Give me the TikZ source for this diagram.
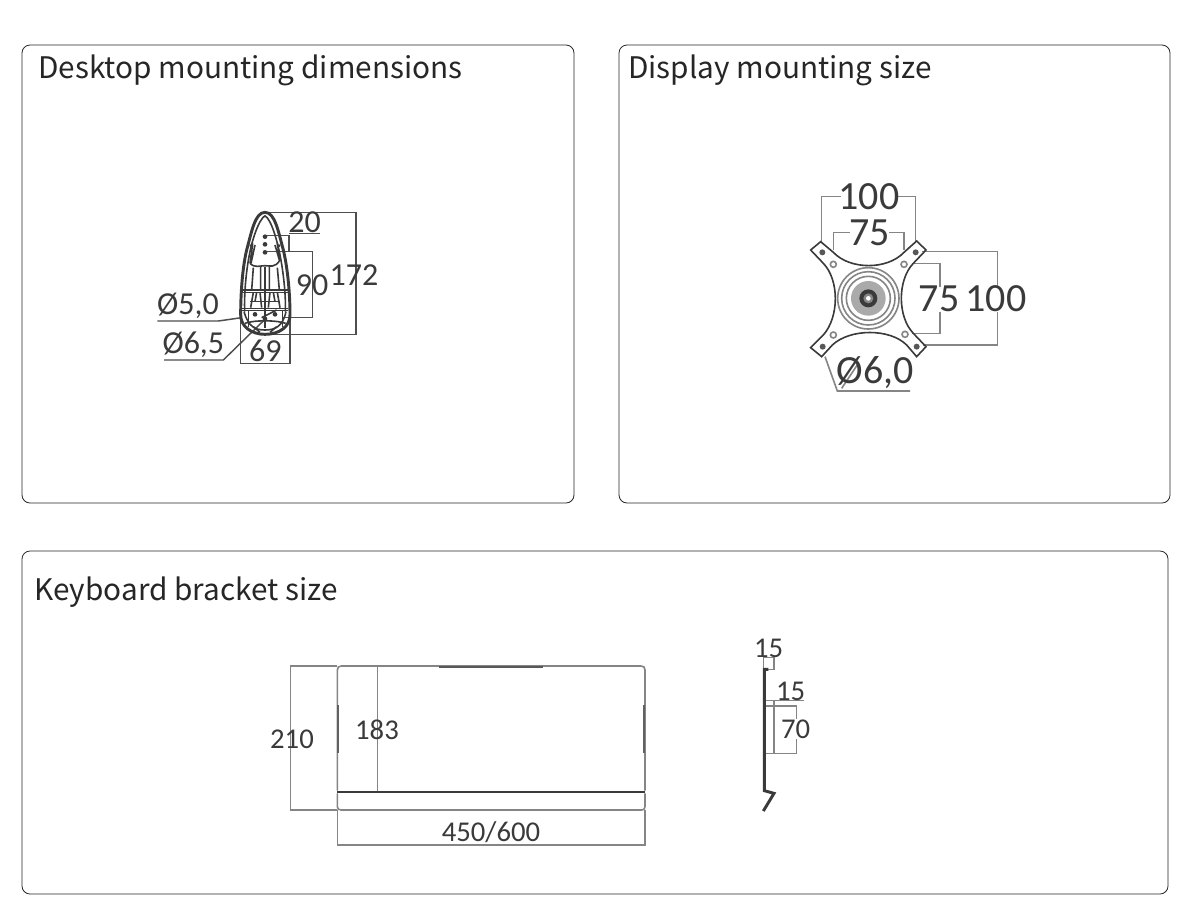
\documentclass[tikz,border=0pt]{standalone}
\usepackage{fontspec}
\newfontfamily\titlefont{Noto Sans CJK SC}
\newfontfamily\dimfont{Carlito}
\definecolor{dimgray}{HTML}{858585}
\definecolor{ink}{HTML}{3A3A3A}
\definecolor{lbl}{HTML}{3A3A3A}
\tikzset{
 panel/.style={draw=black!85,line width=0.6pt,rounded corners=6pt},
 ttl/.style={anchor=west,inner sep=0,text=black!85,font=\titlefont\fontsize{22.3}{26}\selectfont},
 dimtxt/.style={inner sep=0,text=lbl,font=\dimfont\fontsize{#1}{#1}\selectfont},
 dimtxt/.default=24,
 dimline/.style={draw=dimgray,line width=1.2pt},
 darkdim/.style={draw=ink!90,line width=1.1pt},
 part/.style={draw=ink,line width=1.2pt},
 heavy/.style={draw=ink,line width=2.2pt},
 zoomed/.style={x=0.25pt,y=-0.25pt}
}
\begin{document}
\begin{tikzpicture}[x=0.75pt,y=-0.75pt]
\useasboundingbox (0,0) rectangle (1200,922);
\fill[white] (0,0) rectangle (1200,922);
\draw[panel] (22,45) rectangle (574,503);
\draw[panel] (619,45) rectangle (1170,503);
\draw[panel] (22,551) rectangle (1168,894);
\node[ttl] (t1) at (38,70) {Desktop mounting dimensions};
\node[ttl] (t2) at (628,70) {Display mounting size};
\node[ttl] (t3) at (34,592) {Keyboard bracket size};

% Desktop mount
\begin{scope}[shift={(140,195)},zoomed]
 % dimension lines
 \draw[darkdim] (375,52)--(648,52)--(648,418)--(400,418);
 \draw[darkdim] (447,115)--(540,115);
 \draw[darkdim] (375,122)--(447,122)--(447,170);
 \draw[darkdim] (375,170)--(518,170)--(518,368)--(430,368);
 \draw[darkdim] (302,370)--(302,505)--(450,505)--(450,370);
 \draw[darkdim] (52,378)--(235,378)--(305,368);
 \draw[darkdim] (72,495)--(250,495)--(380,368);
 % body
 \draw[heavy] (375,52) .. controls (345,52) and (335,110) .. (320,165)
   .. controls (308,215) and (302,290) .. (302,360)
   .. controls (302,395) and (335,418) .. (375,418)
   .. controls (418,418) and (450,395) .. (450,360)
   .. controls (450,290) and (442,215) .. (430,165)
   .. controls (415,110) and (405,52) .. (375,52) -- cycle;
 \draw[part] (375,62) .. controls (355,75) and (335,140) .. (328,180)
   .. controls (318,230) and (312,300) .. (314,350);
 \draw[part] (375,62) .. controls (395,75) and (412,140) .. (420,180)
   .. controls (430,230) and (438,300) .. (436,350);
 \draw[part] (338,145)--(330,205) (345,150)--(333,205);
 \draw[part] (412,145)--(420,195) (405,150)--(418,195);
 \draw[part] (330,205) .. controls (345,220) and (360,212) .. (375,212)
   .. controls (390,212) and (405,220) .. (420,195);
 \draw[part] (340,218)--(335,285) (362,215)--(362,285);
 \draw[part] (388,215)--(388,285) (412,218)--(418,285);
 \draw[part] (305,285)--(445,285) (305,292)--(445,292);
 \draw[part] (375,215)--(375,400);
 \draw[part] (340,292)--(332,338) (360,292)--(365,338);
 \draw[part] (390,292)--(385,338) (412,292)--(420,338);
 \draw[part] (350,292)--(345,320) (400,292)--(405,320);
 \draw[part] (330,320)--(420,320);
 \draw[part] (305,340)--(445,340) (305,347)--(445,347);
 \draw[part] (312,350) .. controls (325,395) and (345,405) .. (375,405)
   .. controls (405,405) and (428,395) .. (438,350);
 \draw[part] (325,345)--(325,395) (428,345)--(428,395);
 \draw[part] (315,385) .. controls (340,375) and (410,375) .. (437,385);
 \draw[part] (340,395)--(360,412) (410,395)--(390,412);
 \foreach \p in {(375,125),(375,148),(375,172),(345,358),(375,372),(405,358)}
   \fill[ink] \p circle[radius=7];
 \draw[part] (365,368)--(410,345);
 \fill[ink] (333,152) circle[radius=5] (417,152) circle[radius=5];
 % labels
 \node[dimtxt] (d20) at (494,83) {20};
 \node[dimtxt] (d172) at (642,241) {172};
 \node[dimtxt] (d90) at (516,270) {90};
 \node[dimtxt] (d50) at (144,332) {Ø5,0};
 \node[dimtxt] (d65) at (160,449) {Ø6,5};
 \node[dimtxt] (d69) at (376,466) {69};
\end{scope}

% Display plate
\begin{scope}[shift={(800,175)},zoomed]
 \draw[dimline] (65,205)--(65,65)--(122,65);
 \draw[dimline] (292,65)--(347,65)--(347,200);
 \draw[dimline] (100,225)--(100,172)--(150,172);
 \draw[dimline] (268,172)--(312,172)--(312,225);
 \draw[dimline] (365,230)--(592,230)--(592,335);
 \draw[dimline] (592,410)--(592,510)--(370,510);
 \draw[dimline] (335,265)--(420,265)--(420,335);
 \draw[dimline] (420,410)--(420,476)--(335,476);
 \draw[dimline] (75,545)--(112,648)--(330,648);
 \draw[dimline] (175,565)--(125,640);
 \draw[part] (100,232) .. controls (150,285) and (262,285) .. (312,232)
   -- (350,198) -- (378,225) -- (340,265)
   .. controls (292,315) and (292,425) .. (340,475)
   -- (378,515) -- (350,545) -- (320,510)
   .. controls (270,460) and (150,460) .. (97,510)
   -- (65,545) -- (32,518) -- (70,480)
   .. controls (118,425) and (118,315) .. (70,265)
   -- (32,225) -- (62,200) -- cycle;
 \foreach \p in {(67,232),(347,232),(68,515),(350,515)}
   \fill[ink!85] \p circle[radius=9];
 \foreach \p in {(100,268),(312,268),(100,480),(315,478)}
   \draw[part,draw=dimgray] \p circle[radius=9];
 \draw[dimline] (205,370) circle[radius=92];
 \draw[dimline] (205,370) circle[radius=80];
 \draw[dimline] (205,370) circle[radius=66];
 \fill[dimgray!70] (205,370) circle[radius=52];
 \fill[ink] (205,370) circle[radius=27];
 \fill[dimgray] (205,370) circle[radius=15];
 \fill[white] (205,370) circle[radius=7];
 \node[dimtxt=30] (w100) at (207,66) {100};
 \node[dimtxt=30] (w75) at (209,174) {75};
 \node[dimtxt=30] (h75) at (417,372) {75};
 \node[dimtxt=30] (h100) at (588,372) {100};
 \node[dimtxt=30] (d60) at (226,592) {Ø6,0};
\end{scope}

% Keyboard bracket
\begin{scope}[shift={(260,650)},zoomed]
 \draw[dimline] (232,48)--(92,48)--(92,480)--(232,480);
 \draw[dimline] (352,48)--(352,422);
 \draw[dimline] (232,480)--(232,585)--(1155,585)--(1155,480);
 \draw[dimline] (232,422)--(232,60) .. controls (232,52) and (236,48) .. (244,48)
   -- (1143,48) .. controls (1151,48) and (1155,52) .. (1155,60) -- (1155,422);
 \draw[dimline] (232,430)--(232,470) .. controls (232,477) and (236,480) .. (244,480)
   -- (1145,480) .. controls (1151,480) and (1155,477) .. (1155,470) -- (1155,430);
 \draw[heavy,line width=1.5pt,draw=ink!85] (537,50)--(850,50);
 \draw[heavy,line width=1.6pt,draw=ink!80] (234,165)--(234,308);
 \draw[heavy,line width=1.6pt,draw=ink!80] (1152,165)--(1152,308);
 \draw[heavy,line width=2pt] (232,426)--(1155,426);
 \node[dimtxt=21.5] (a210) at (96,267) {210};
 \node[dimtxt=21.5] (a183) at (351,238) {183};
 \node[dimtxt=21.5] (a450) at (693,545) {450/600};
\end{scope}

% Side view
\begin{scope}[shift={(735,630)},zoomed]
 \draw[dimline] (85,115)--(85,82)--(117,82)--(117,118)--(90,118);
 \draw[dimline] (85,212)--(207,212);
 \draw[dimline] (117,212)--(117,372);
 \draw[dimline] (88,228)--(185,228)--(185,268);
 \draw[dimline] (185,328)--(185,371)--(88,371);
 \draw[heavy] (100,118)--(88,118)--(88,482)--(117,490)--(85,543);
 \node[dimtxt=21.5] (s15a) at (101,54) {15};
 \node[dimtxt=21.5] (s15b) at (167,183) {15};
 \node[dimtxt=21.5] (s70) at (182,298) {70};
\end{scope}
\end{tikzpicture}
\end{document}
